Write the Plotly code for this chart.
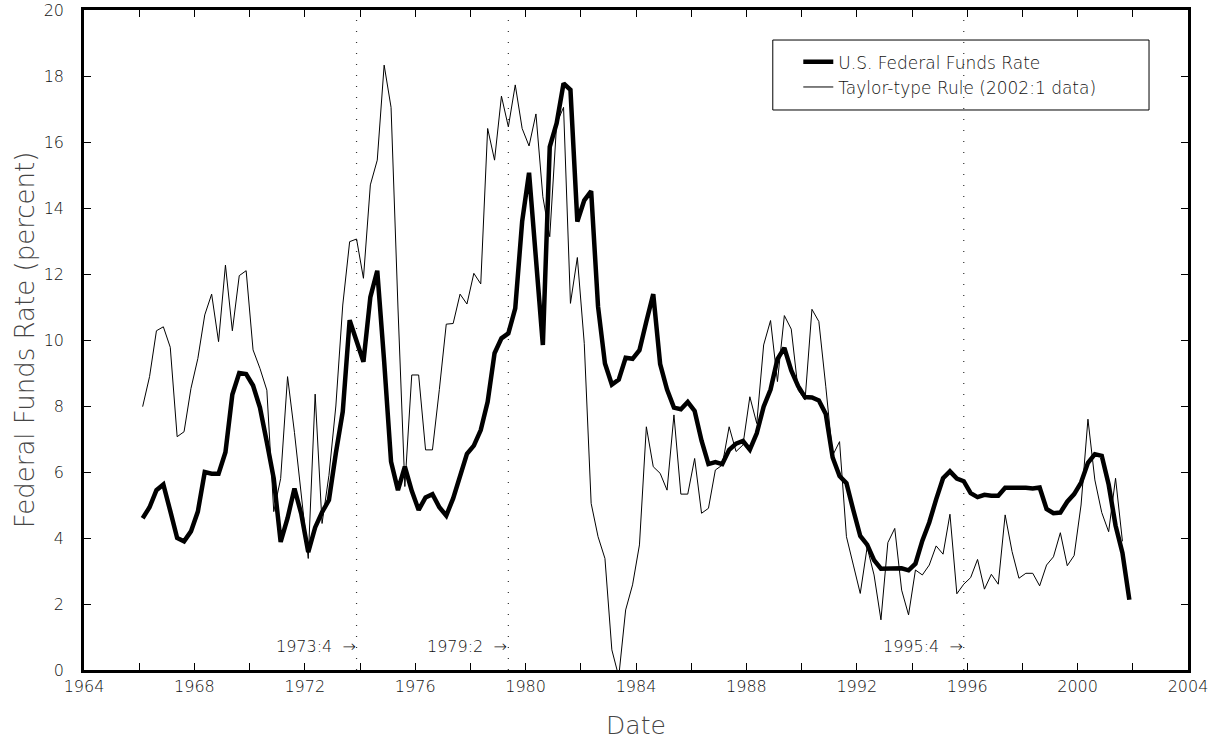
import plotly.graph_objects as go

# ---------------- data (quarterly, 1966:1 - 2001:4) ----------------
start_year = 1966
end_year = 2001

fed_funds = [
    4.60, 4.93, 5.45, 5.62,   # 1966
    4.82, 4.00, 3.90, 4.20,   # 1967
    4.80, 6.00, 5.95, 5.95,   # 1968
    6.60, 8.35, 9.00, 8.97,   # 1969
    8.62, 7.95, 6.90, 5.80,   # 1970
    3.88, 4.60, 5.50, 4.72,   # 1971
    3.57, 4.32, 4.78, 5.15,   # 1972
    6.57, 7.83, 10.60, 10.00, # 1973
    9.34, 11.30, 12.10, 9.35, # 1974
    6.31, 5.45, 6.16, 5.43,   # 1975
    4.85, 5.23, 5.33, 4.93,   # 1976
    4.68, 5.20, 5.86, 6.55,   # 1977
    6.80, 7.27, 8.13, 9.60,   # 1978
    10.05, 10.20, 10.96, 13.59,  # 1979
    15.07, 12.60, 9.85, 15.85,   # 1980
    16.57, 17.78, 17.58, 13.59,  # 1981
    14.23, 14.51, 11.01, 9.29,   # 1982
    8.65, 8.80, 9.46, 9.43,   # 1983
    9.69, 10.56, 11.39, 9.27, # 1984
    8.50, 7.95, 7.90, 8.12,   # 1985
    7.85, 6.95, 6.24, 6.30,   # 1986
    6.24, 6.67, 6.86, 6.94,   # 1987
    6.68, 7.17, 7.98, 8.50,   # 1988
    9.42, 9.76, 9.08, 8.60,   # 1989
    8.27, 8.26, 8.17, 7.76,   # 1990
    6.44, 5.88, 5.66, 4.84,   # 1991
    4.06, 3.80, 3.33, 3.07,   # 1992
    3.07, 3.05, 3.08, 3.02,   # 1993
    3.22, 3.92, 4.47, 5.17,   # 1994
    5.81, 6.02, 5.80, 5.72,   # 1995
    5.36, 5.24, 5.31, 5.28,   # 1996
    5.28, 5.52, 5.53, 5.51,   # 1997
    5.52, 5.50, 5.53, 4.88,   # 1998
    4.75, 4.77, 5.10, 5.33,   # 1999
    5.68, 6.28, 6.54, 6.49,   # 2000
    5.62, 4.38, 3.55, 2.13,   # 2001
]

taylor_rule = [
    7.98, 8.89, 10.28, 10.40,    # 1966
    9.78, 7.07, 7.22, 8.53,      # 1967
    9.44, 10.76, 11.39, 9.95,    # 1968
    12.27, 10.28, 11.95, 12.10,  # 1969
    9.70, 9.14, 8.48, 4.80,      # 1970
    5.80, 8.89, 7.20, 5.30,      # 1971
    3.38, 8.36, 4.44, 5.90,      # 1972
    8.00, 11.06, 12.98, 13.06,   # 1973
    11.87, 14.70, 15.45, 18.33,  # 1974
    17.05, 11.00, 5.56, 8.94,    # 1975
    8.94, 6.67, 6.67, 8.50,      # 1976
    10.48, 10.50, 11.39, 11.09,  # 1977
    12.02, 11.70, 16.41, 15.45,  # 1978
    17.39, 16.46, 17.73, 16.41,  # 1979
    15.88, 16.85, 14.34, 13.13,  # 1980
    16.56, 17.05, 11.11, 12.50,  # 1981
    9.90, 5.05, 4.04, 3.38,      # 1982
    0.61, -0.20, 1.82, 2.58,     # 1983
    3.79, 7.37, 6.16, 5.96,      # 1984
    5.45, 7.73, 5.33, 5.33,      # 1985
    6.41, 4.75, 4.90, 6.06,      # 1986
    6.21, 7.37, 6.62, 6.82,      # 1987
    8.28, 7.47, 9.85, 10.59,     # 1988
    8.74, 10.74, 10.33, 8.48,    # 1989
    8.18, 10.93, 10.56, 8.60,    # 1990
    6.50, 6.92, 4.04, 3.18,      # 1991
    2.32, 3.72, 2.88, 1.52,      # 1992
    3.86, 4.29, 2.42, 1.67,      # 1993
    3.03, 2.88, 3.18, 3.76,      # 1994
    3.51, 4.72, 2.31, 2.60,      # 1995
    2.80, 3.35, 2.45, 2.90,      # 1996
    2.60, 4.70, 3.59, 2.78,      # 1997
    2.93, 2.93, 2.55, 3.18,      # 1998
    3.43, 4.16, 3.16, 3.47,      # 1999
    5.00, 7.60, 5.76, 4.77,      # 2000
    4.19, 5.81, 3.90,            # 2001 (through Q3)
]

event_labels = ["1973:4", "1979:2", "1995:4"]
event_dates = [1973.875, 1979.375, 1995.875]

x_tick_vals = list(range(1964, 2005, 2))
x_tick_text = [str(v) if v % 4 == 0 else "" for v in x_tick_vals]
y_tick_vals = list(range(0, 21, 2))

series_names = ["U.S. Federal Funds Rate", "Taylor-type Rule (2002:1 data)"]

# quarter mid-points
quarters = [y + (q - 0.5) / 4 for y in range(start_year, end_year + 1) for q in range(1, 5)]

FONT = "DejaVu Sans"

fig = go.Figure()
fig.add_trace(go.Scatter(
    x=quarters, y=fed_funds, mode="lines", name=series_names[0],
    line=dict(color="black", width=4.5), cliponaxis=True,
))
fig.add_trace(go.Scatter(
    x=quarters[:len(taylor_rule)], y=taylor_rule, mode="lines", name=series_names[1],
    line=dict(color="black", width=1), cliponaxis=True,
))

for lab, d in zip(event_labels, event_dates):
    fig.add_shape(type="line", xref="x", yref="y", x0=d, x1=d, y0=0, y1=19.7,
                  line=dict(color="#333333", width=1.2, dash="1px,10px"), layer="below")
    fig.add_annotation(x=d, y=0.7, xref="x", yref="y", text=lab + "  \u2192",
                       showarrow=False, xanchor="right", yanchor="middle", xshift=1,
                       font=dict(family=FONT, size=16, color="#111111", weight=300))

# legend box
fig.add_shape(type="rect", xref="paper", yref="paper", x0=0.6239, x1=0.9647,
              y0=0.8485, y1=0.9545, line=dict(color="black", width=1),
              fillcolor="white", layer="below")

fig.update_layout(
    width=1217, height=743,
    margin=dict(l=84, r=29, t=10, b=73),
    paper_bgcolor="white", plot_bgcolor="white",
    showlegend=True,
    legend=dict(x=0.647, y=0.948, xanchor="left", yanchor="top",
                bgcolor="rgba(0,0,0,0)", borderwidth=0,
                font=dict(family=FONT, size=17, color="#111111", weight=300),
                tracegroupgap=0, itemwidth=30),
    font=dict(family=FONT, color="#111111"),
)

fig.update_xaxes(
    range=[1964, 2004], tickmode="array", tickvals=x_tick_vals, ticktext=x_tick_text,
    ticks="inside", ticklen=7, tickwidth=1, tickcolor="black",
    showline=True, linecolor="black", linewidth=2.5, mirror="ticks",
    showgrid=False, zeroline=False,
    tickfont=dict(family=FONT, size=16, color="#111111", weight=300),
    title=dict(text="Date", standoff=22,
               font=dict(family=FONT, size=25, color="#444444", weight=300)),
    automargin=False,
)
fig.update_yaxes(
    range=[0, 20], tickmode="array", tickvals=y_tick_vals,
    ticks="inside", ticklen=7, tickwidth=1, tickcolor="black",
    showline=True, linecolor="black", linewidth=2.5, mirror="ticks",
    showgrid=False, zeroline=False, ticklabelstandoff=14,
    tickfont=dict(family=FONT, size=16, color="#111111", weight=300),
    title=dict(text="Federal Funds Rate (percent)", standoff=2,
               font=dict(family=FONT, size=26, color="#444444", weight=300)),
    automargin=False,
)

fig.write_html("out.html")
